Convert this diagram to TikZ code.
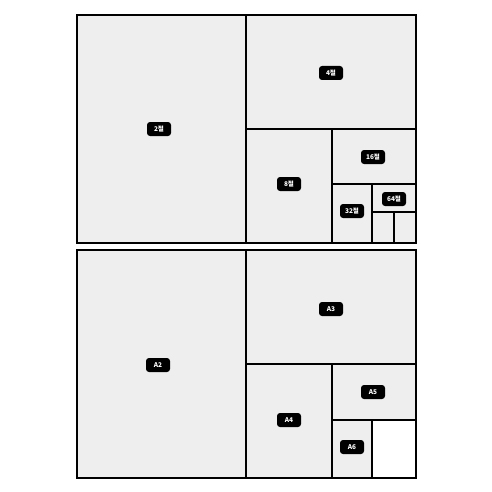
\documentclass[tikz,border=0pt]{standalone}
\usepackage{fontspec}
\setmainfont{Noto Sans CJK KR}
\begin{document}
\begin{tikzpicture}[x=1pt,y=-1pt,
  cell/.style={draw=black,fill=cellgray,line width=1.6pt},
  wcell/.style={draw=black,fill=white,line width=1.6pt},
  tag/.style={fill=black,text=white,rounded corners=3pt,minimum width=24pt,minimum height=14pt,inner sep=1.5pt,font=\fontsize{6.5}{7}\selectfont\bfseries}]
\definecolor{cellgray}{HTML}{EEEEEE}
\useasboundingbox (0,0) rectangle (492,492);
% top panel
\draw[cell] (77,15) rectangle (246,243);
\draw[cell] (246,15) rectangle (416,129);
\draw[cell] (246,129) rectangle (332,243);
\draw[cell] (332,129) rectangle (416,184);
\draw[cell] (332,184) rectangle (372,243);
\draw[cell] (372,184) rectangle (416,212);
\draw[cell] (372,212) rectangle (394,243);
\draw[cell] (394,212) rectangle (416,243);
\draw[black,line width=1.8pt] (77,15) rectangle (416,243);
\node[tag] (t2) at (159,129) {2절};
\node[tag] (t4) at (331,73) {4절};
\node[tag] (t8) at (289,184) {8절};
\node[tag] (t16) at (373,157) {16절};
\node[tag] (t32) at (352,211) {32절};
\node[tag] (t64) at (394,199) {64절};
% bottom panel
\draw[cell] (77,250) rectangle (246,478);
\draw[cell] (246,250) rectangle (416,364);
\draw[cell] (246,364) rectangle (332,478);
\draw[cell] (332,364) rectangle (416,420);
\draw[cell] (332,420) rectangle (372,478);
\draw[wcell] (372,420) rectangle (416,478);
\draw[black,line width=1.8pt] (77,250) rectangle (416,478);
\node[tag] (a2) at (158,365) {A2};
\node[tag] (a3) at (331,309) {A3};
\node[tag] (a4) at (289,420) {A4};
\node[tag] (a5) at (373,392) {A5};
\node[tag] (a6) at (352,447) {A6};
\end{tikzpicture}
\end{document}
